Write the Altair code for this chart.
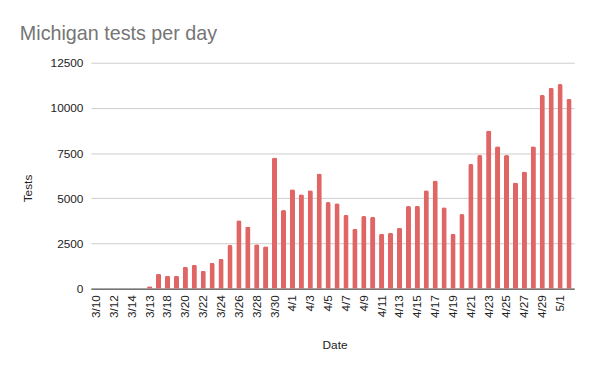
import altair as alt
import pandas as pd

dates = ["3/10", "3/11", "3/12", "3/13", "3/14", "3/15", "3/13", "3/17", "3/18", "3/19",
         "3/20", "3/21", "3/22", "3/23", "3/24", "3/25", "3/26", "3/27", "3/28", "3/29",
         "3/30", "3/31", "4/1", "4/2", "4/3", "4/4", "4/5", "4/6", "4/7", "4/8",
         "4/9", "4/10", "4/11", "4/12", "4/13", "4/14", "4/15", "4/16", "4/17", "4/18",
         "4/19", "4/20", "4/21", "4/22", "4/23", "4/24", "4/25", "4/26", "4/27", "4/28",
         "4/29", "4/30", "5/1", "5/2"]
tests = [0, 0, 0, 0, 0, 0, 130, 820, 720, 720,
         1210, 1320, 990, 1430, 1650, 2420, 3790, 3440, 2460, 2350,
         7250, 4350, 5500, 5220, 5440, 6370, 4790, 4730, 4080, 3310,
         4020, 3970, 3040, 3090, 3370, 4570, 4580, 5440, 5990, 4510,
         3040, 4130, 6900, 7390, 8750, 7880, 7390, 5880, 6480, 7880,
         10720, 11120, 11320, 10500]
y_ticks = [0, 2500, 5000, 7500, 10000, 12500]

df = pd.DataFrame({"idx": list(range(len(dates))), "Date": dates, "Tests": tests})

label_array = "[" + ",".join("'" + d + "'" for d in dates) + "]"
font = "Liberation Sans"

chart = alt.Chart(df).mark_bar(
    color="#e06666", cornerRadiusTopLeft=2, cornerRadiusTopRight=2
).encode(
    x=alt.X("idx:O",
            scale=alt.Scale(paddingInner=0.42, paddingOuter=0.3),
            axis=alt.Axis(title="Date",
                          values=list(range(0, len(dates), 2)),
                          labelExpr=label_array + "[datum.value]",
                          labelAngle=270, labelAlign="right", labelBaseline="middle",
                          labelPadding=6, ticks=False, domainColor="#333333",
                          labelColor="#222222", labelFontSize=12, labelFont=font,
                          titleFont=font, titleFontSize=12, titleFontWeight="normal",
                          titleColor="#222222", titleX=247, titleY=57,
                          titleBaseline="middle", titleAlign="center")),
    y=alt.Y("Tests:Q",
            scale=alt.Scale(domain=[0, 12500], nice=False),
            axis=alt.Axis(title="Tests", values=y_ticks, ticks=False, domain=False,
                          format="d",
                          gridColor="#cccccc", labelPadding=8,
                          labelColor="#222222", labelFontSize=12, labelFont=font,
                          titleFont=font, titleFontSize=12, titleFontWeight="normal",
                          titleColor="#222222", titleX=-64, titleY=127,
                          titleAngle=270, titleBaseline="middle", titleAlign="center")),
).properties(
    width=490, height=229,
    padding={"left": 84, "top": 53, "right": 18, "bottom": 81},
    autosize=alt.AutoSizeParams(type="none"),
    title=alt.TitleParams("Michigan tests per day", anchor="start", frame="group",
                          dx=-72, dy=19,
                          fontSize=20, font=font, fontWeight="normal",
                          color="#757575", offset=16, baseline="alphabetic"),
).configure_view(stroke=None)

chart.save("out.html", embed_options={"renderer": "svg", "actions": False})
